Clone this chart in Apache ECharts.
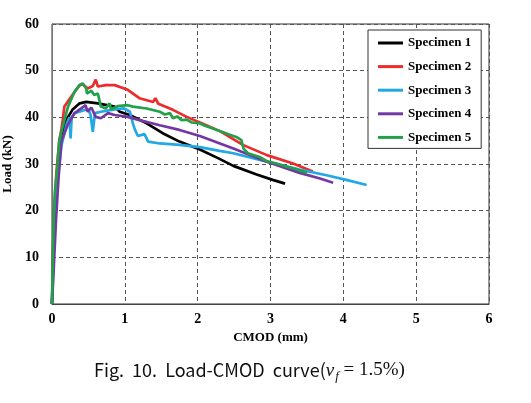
<!DOCTYPE html>
<html>
<head>
<meta charset="utf-8">
<script src="https://cdn.jsdelivr.net/npm/echarts@6/dist/echarts.min.js"></script>
<style>html,body{margin:0;padding:0;background:#fff;}#c{width:531px;height:403px;}</style>
</head>
<body>
<div id="c"></div>
<script>
const seriesNames = ['Specimen 1', 'Specimen 2', 'Specimen 3', 'Specimen 4', 'Specimen 5'];
const xTicks = [0, 1, 2, 3, 4, 5, 6];
const yTicks = [0, 10, 20, 30, 40, 50, 60];

const specimen1 = [[0,0],[0.02,12],[0.04,20],[0.07,28],[0.12,35],[0.2,39.5],[0.28,41.6],[0.38,43],[0.47,43.3],[0.63,43],[0.86,42.3],[0.93,41.2],[1.07,40.5],[1.3,38.7],[1.52,36.6],[1.75,34.8],[2.03,33.1],[2.3,31.1],[2.49,29.6],[2.8,27.8],[3.03,26.6],[3.2,25.8]];
const specimen2 = [[0,0],[0.015,12],[0.03,20],[0.06,28],[0.1,35],[0.13,37.5],[0.147,39.4],[0.17,42.3],[0.28,44.8],[0.38,46.9],[0.42,47.1],[0.49,46.2],[0.56,46.7],[0.6,48.1],[0.63,46.6],[0.74,46.9],[0.86,46.9],[1.04,45.9],[1.2,44.1],[1.39,43.3],[1.42,44.1],[1.46,42.9],[1.66,41.6],[1.85,40.1],[2.03,38.9],[2.3,37.1],[2.62,34.1],[2.95,31.9],[3.31,30.1],[3.58,28.4]];
const specimen3 = [[0,0],[0.02,10],[0.045,18],[0.08,27],[0.13,34],[0.2,38.5],[0.24,40],[0.255,35.5],[0.27,40],[0.31,40.9],[0.45,41.6],[0.5,41.7],[0.53,40.5],[0.56,36.9],[0.59,40.9],[0.67,41.2],[0.86,41.7],[0.99,41.9],[1.07,41.2],[1.11,38.7],[1.14,37.3],[1.18,36],[1.27,36.4],[1.32,34.8],[1.48,34.4],[1.75,34.1],[2.03,33.6],[2.3,32.8],[2.49,32.3],[2.95,30.5],[3.4,28.8],[3.77,27.6],[4.04,26.6],[4.32,25.5]];
const specimen4 = [[0,0],[0.025,8],[0.055,18],[0.09,27],[0.13,35],[0.22,38.5],[0.31,40.9],[0.4,41.9],[0.46,42.6],[0.49,41.2],[0.54,42.1],[0.6,40.1],[0.67,39.8],[0.77,40.9],[0.86,40.5],[1.04,40.1],[1.2,39.4],[1.48,38.3],[1.75,37.3],[2.03,36],[2.49,33.3],[2.95,30.5],[3.4,28.1],[3.68,26.9],[3.86,26]];
const specimen5 = [[0,0],[0.01,10],[0.023,18],[0.04,24],[0.065,28],[0.1,35],[0.147,38],[0.22,42.3],[0.31,45.5],[0.38,46.9],[0.42,47.3],[0.47,46.2],[0.48,45.1],[0.54,45.7],[0.58,44.8],[0.63,45.1],[0.67,42.3],[0.74,41.9],[0.79,43],[0.81,41.7],[0.9,42.4],[1.04,42.6],[1.11,42.3],[1.3,41.9],[1.48,41.2],[1.55,40.6],[1.62,40.9],[1.66,39.8],[1.72,40.2],[1.78,39.4],[1.85,39.5],[1.92,38.9],[2.03,38.7],[2.1,38.2],[2.17,37.8],[2.26,37.3],[2.35,36.8],[2.45,36.2],[2.53,35.8],[2.6,35.1],[2.63,33.3],[2.69,32.3],[2.85,31.5],[2.95,30.6],[3.08,30.1],[3.2,29.5],[3.31,29.1],[3.5,28.1]];

const colors = ['#000000', '#ee2a2a', '#22a8e4', '#7438a2', '#22a04a'];
const allData = [specimen1, specimen2, specimen3, specimen4, specimen5];

const chart = echarts.init(document.getElementById('c'));
const serif = '"Liberation Serif", "Times New Roman", serif';
chart.setOption({
  animation: false,
  backgroundColor: '#fff',
  grid: { left: 52, right: 42, top: 24, bottom: 99, containLabel: false, outerBoundsMode: 'none', show: true, borderColor: '#333', borderWidth: 1, backgroundColor: 'transparent' },
  xAxis: {
    type: 'value', min: xTicks[0], max: xTicks[xTicks.length - 1], interval: 1,
    name: 'CMOD (mm)', nameLocation: 'middle', nameGap: 23,
    nameTextStyle: { fontFamily: serif, fontWeight: 'bold', fontSize: 13, color: '#000' },
    axisLine: { show: true, lineStyle: { color: '#444', width: 1 } },
    axisTick: { show: false },
    axisLabel: { margin: 8, fontFamily: serif, fontWeight: 'bold', fontSize: 14, color: '#000' },
    splitLine: { show: true, lineStyle: { type: [4, 3], color: '#555', width: 1 } }
  },
  yAxis: {
    type: 'value', min: yTicks[0], max: yTicks[yTicks.length - 1], interval: 10,
    name: 'Load (kN)', nameLocation: 'middle', nameGap: 31, nameRotate: 90,
    nameTextStyle: { fontFamily: serif, fontWeight: 'bold', fontSize: 13, color: '#000' },
    axisLine: { show: true, lineStyle: { color: '#777', width: 1 } },
    axisTick: { show: false },
    axisLabel: { margin: 13, fontFamily: serif, fontWeight: 'bold', fontSize: 14, color: '#000' },
    splitLine: { show: true, lineStyle: { type: [4, 3], color: '#555', width: 1 } }
  },
  legend: {
    orient: 'vertical', left: 368, top: 30,
    padding: [6, 10, 4, 10], itemWidth: 25, itemHeight: 3, itemGap: 9.6,
    icon: 'rect',
    backgroundColor: '#fff', borderColor: '#333', borderWidth: 1, borderRadius: 0,
    textStyle: { fontFamily: serif, fontWeight: 'bold', fontSize: 13, color: '#000', lineHeight: 14 },
    data: seriesNames
  },
  series: allData.map((d, i) => ({
    name: seriesNames[i], type: 'line', data: d, symbol: 'none', showSymbol: false,
    lineStyle: { color: colors[i], width: 2.7 }, itemStyle: { color: colors[i] }, z: 2 + i
  })),
  graphic: [{
    type: 'text', left: 94, top: 361,
    style: {
      text: '{a|Fig.  10.  Load-CMOD  curve(}{v|v}{s|f}{b| = 1.5%)}',
      rich: {
        a: { fontFamily: '"Noto Sans CJK KR", "Noto Sans", sans-serif', fontSize: 18, fill: '#111' },
        v: { fontFamily: serif, fontStyle: 'italic', fontSize: 19, fill: '#111' },
        s: { fontFamily: serif, fontStyle: 'italic', fontSize: 13, fill: '#111', padding: [12, 0, 0, 1] },
        b: { fontFamily: serif, fontSize: 19, fill: '#111' }
      }
    }
  }]
});
</script>
</body>
</html>
